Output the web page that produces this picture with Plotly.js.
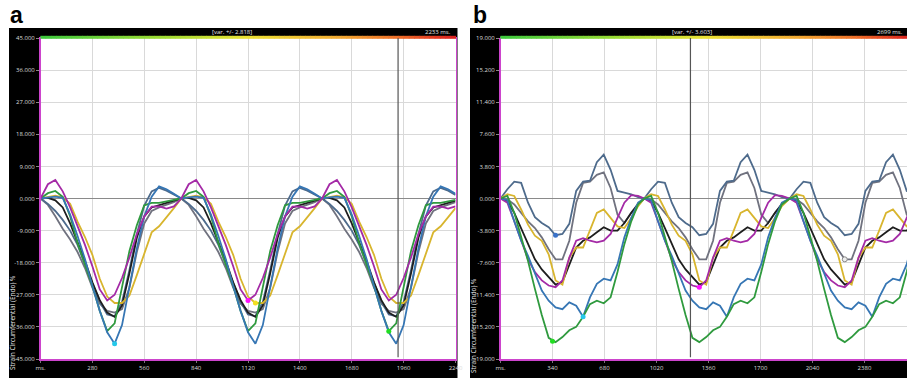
<!DOCTYPE html>
<html><head><meta charset="utf-8">
<script src="https://cdn.plot.ly/plotly-3.0.1.min.js"></script>
<style>html,body{margin:0;padding:0;background:#fff}#chart{width:907px;height:378px}</style>
</head><body><div id="chart"></div>
<script>
// ---------- DATA ----------
// Panel a: one heart cycle sampled every 40 ms, repeated at cycle starts
const leftCycleT = [0,40,80,120,160,200,240,280,320,360,400,440,480,520,560,600,640,680,720];
const leftStarts = [0,760,1520];
const leftMagenta = [0,4.0,5.2,2.0,-2.5,-7.5,-13.0,-19.0,-25.5,-28.6,-27.0,-22.3,-16.5,-10.0,-5.0,-2.3,-2.2,-2.8,-2.2];
const leftYellow  = [0,0.5,0.8,0.3,-1.5,-6.5,-10.8,-15.8,-22.5,-27.5,-29.3,-29.3,-27.2,-21.5,-15.5,-9.5,-7.8,-5.4,-2.7];
const leftGreen   = [0,1.5,2.1,0.5,-5.0,-12.5,-18.5,-24.5,-31.5,-37.2,-35.0,-25.0,-14.7,-7.5,-1.9,-1.2,-1.2,-0.8,-0.4];
const leftBlue    = [0,0.3,0.5,0.2,-4.5,-10.5,-17.0,-24.5,-31.5,-37.5,-40.7,-35.5,-25.0,-14.0,-5.0,0.5,3.4,2.6,1.3];
const leftSlate   = [0,-1.5,-3.5,-6.0,-9.0,-13.0,-18.5,-24.0,-29.0,-32.5,-33.0,-29.0,-20.0,-10.0,-2.0,2.0,3.0,2.2,1.0];
const leftBlack   = [0,0.2,-0.5,-2.5,-7.0,-12.0,-17.5,-23.5,-28.5,-32.0,-33.2,-30.0,-21.0,-11.0,-5.0,-2.5,-1.8,-1.3,-0.6];
const leftGray    = [0,-1.8,-5.0,-8.5,-11.5,-15.0,-19.5,-25.0,-29.5,-31.5,-32.0,-31.0,-25.0,-15.0,-7.0,-3.5,-2.5,-1.8,-1.0];
const leftMarkT = [400,1120,1160,1880];
const leftMarkV = [-40.7,-28.6,-29.3,-37.2];
const leftCursorT = 1930;
const leftXTicks = [0,280,560,840,1120,1400,1680,1960,2240];
const leftXTickText = ['ms.','280','560','840','1120','1400','1680','1960','2240'];
const leftYTicks = [45,36,27,18,9,0,-9,-18,-27,-36,-45];
const leftYTickText = ['45.000','36.000','27.000','18.000','9.000','0.000','-9.000','-18.000','-27.000','-36.000','-45.000'];

// Panel b: one cycle sampled every 45 ms
const rightCycleT = [0,45,90,135,180,225,270,315,360,405,450,495,540,585,630,675,720,765,810,855,900];
const rightStarts = [0,940,1891];
const rightSlate   = [0,1.1,2.0,1.85,-0.5,-2.2,-2.9,-3.4,-4.35,-4.2,-3.0,0.9,2.0,2.1,4.3,5.2,3.4,0.9,0.7,0.5,0.15];
const rightGray    = [0,-0.1,-0.7,-1.7,-2.7,-3.5,-4.6,-6.0,-7.2,-7.2,-5.0,-0.5,1.85,2.0,2.8,3.1,1.25,-1.9,-2.9,-1.7,-0.6];
const rightYellow  = [0,0.5,0.3,-1.3,-3.1,-4.4,-5.0,-6.6,-9.7,-10.2,-7.0,-5.8,-5.8,-3.8,-1.7,-1.3,-2.3,-3.3,-3.5,-2.3,-0.9];
const rightBlack   = [0,-0.3,-1.7,-3.5,-5.4,-7.2,-8.4,-9.3,-10.2,-9.9,-7.8,-5.8,-5.0,-4.6,-4.0,-3.4,-3.8,-3.8,-2.9,-1.7,-0.7];
const rightMagenta = [0,-0.5,-2.7,-5.0,-7.2,-8.7,-9.7,-10.3,-10.5,-9.7,-7.0,-5.0,-4.7,-5.0,-5.2,-5.0,-4.2,-2.3,-0.5,0.4,0.3];
const rightBlue    = [0,-0.2,-2.7,-5.0,-6.8,-8.9,-10.9,-12.1,-12.9,-13.1,-12.3,-12.7,-14.0,-11.7,-10.1,-9.5,-9.7,-7.8,-4.6,-2.3,-0.5];
const rightGreen   = [0,0.3,-1.7,-4.6,-7.4,-10.7,-13.8,-16.5,-17.0,-16.4,-15.6,-15.2,-14.0,-12.5,-12.1,-12.4,-11.7,-8.7,-5.4,-2.7,-0.7];
const rightMarkT = [360,540,340,1300,2251];
const rightMarkV = [-4.35,-14.0,-16.9,-10.5,-7.2];
const rightCursorT = 1242;
const rightXTicks = [0,340,680,1020,1360,1700,2040,2380];
const rightXTickText = ['ms.','340','680','1020','1360','1700','2040','2380'];
const rightYTicks = [19,15.2,11.4,7.6,3.8,0,-3.8,-7.6,-11.4,-15.2,-19];
const rightYTickText = ['19.000','15.200','11.400','7.600','3.800','0.000','-3.800','-7.600','-11.400','-15.200','-19.000'];

// ---------- STYLE ----------
const W = 907, H = 378;
const fx = p => p / W, fy = p => 1 - p / H;
const C = {magenta:'#a42aa6', yellow:'#d8b52e', green:'#2f9a3e', blue:'#3676b4', slate:'#4e6b8c', black:'#1e1e1e', gray:'#70727f'};

function repeat(t, v, starts) {
  const xs = [], ys = [];
  starts.forEach(s => t.forEach((tt, i) => { xs.push(s + tt); ys.push(v[i]); }));
  return {xs, ys};
}
function line(t, v, starts, color, xa, ya) {
  const r = repeat(t, v, starts);
  return {type:'scatter', mode:'lines', x:r.xs, y:r.ys, xaxis:xa, yaxis:ya,
          line:{color:color, width:1.8}, hoverinfo:'skip'};
}
const traces = [
  line(leftCycleT, leftGray, leftStarts, C.gray, 'x', 'y'),
  line(leftCycleT, leftSlate, leftStarts, C.slate, 'x', 'y'),
  line(leftCycleT, leftBlack, leftStarts, C.black, 'x', 'y'),
  line(leftCycleT, leftYellow, leftStarts, C.yellow, 'x', 'y'),
  line(leftCycleT, leftGreen, leftStarts, C.green, 'x', 'y'),
  line(leftCycleT, leftBlue, leftStarts, C.blue, 'x', 'y'),
  line(leftCycleT, leftMagenta, leftStarts, C.magenta, 'x', 'y'),
  {type:'scatter', mode:'markers', x:leftMarkT, y:leftMarkV, xaxis:'x', yaxis:'y',
   marker:{size:5, color:['#25c8ea','#ff10ff','#f2e020','#22dd22']}, hoverinfo:'skip'},
  line(rightCycleT, rightGray, rightStarts, C.gray, 'x2', 'y2'),
  line(rightCycleT, rightSlate, rightStarts, C.slate, 'x2', 'y2'),
  line(rightCycleT, rightBlack, rightStarts, C.black, 'x2', 'y2'),
  line(rightCycleT, rightYellow, rightStarts, C.yellow, 'x2', 'y2'),
  line(rightCycleT, rightMagenta, rightStarts, C.magenta, 'x2', 'y2'),
  line(rightCycleT, rightBlue, rightStarts, C.blue, 'x2', 'y2'),
  line(rightCycleT, rightGreen, rightStarts, C.green, 'x2', 'y2'),
  {type:'scatter', mode:'markers', x:rightMarkT, y:rightMarkV, xaxis:'x2', yaxis:'y2',
   marker:{size:5, color:['#3a72c8','#25c8ea','#22dd22','#ff10ff','#eeeeee'], line:{width:[0,0,0,0,1], color:'#888'}}, hoverinfo:'skip'}
];

const tickFont = {family:'Open Sans, Liberation Sans, sans-serif', size:6, color:'#dcdcdc'};
const lineCol = '#cc44cc';
function xAxis(domain, range, tv, tt, mirror) {
  return {domain, range, tickvals:tv, ticktext:tt, tickfont:tickFont, showgrid:true,
          gridcolor:'#d9d9d9', gridwidth:1, zeroline:false, showline:true, linecolor:lineCol,
          linewidth:1.5, mirror:mirror, ticks:'outside', ticklen:2, tickcolor:'#777', fixedrange:true};
}
function yAxis(domain, range, tv, tt, anchor, mirror) {
  return {domain, range, anchor, tickvals:tv, ticktext:tt, tickfont:tickFont, showgrid:true,
          gridcolor:'#d9d9d9', gridwidth:1, zeroline:true, zerolinecolor:'#8a8a8a', zerolinewidth:1.2,
          showline:true, linecolor:lineCol, linewidth:1.5, mirror:mirror,
          ticks:'outside', ticklen:3, tickcolor:'#888', fixedrange:true};
}

const shapes = [];
function rectPx(x0, y0, x1, y1, color, layer) {
  shapes.push({type:'rect', xref:'paper', yref:'paper', x0:fx(x0), x1:fx(x1), y0:fy(y1), y1:fy(y0),
               fillcolor:color, line:{width:0}, layer:layer || 'below'});
}
// black frames
rectPx(9, 28, 457, 36.5, '#000'); rectPx(9, 28, 40.5, 378, '#000');
rectPx(9, 359, 457, 378, '#000'); rectPx(456, 28, 457.5, 378, '#000');
rectPx(470, 28, 907, 36.5, '#000'); rectPx(470, 28, 500.5, 378, '#000');
rectPx(470, 359, 907, 378, '#000');
// gradient bars
const stops = [[0,[60,200,60]],[0.3,[160,220,50]],[0.5,[236,226,52]],[0.72,[242,170,50]],[0.86,[238,110,40]],[1,[218,30,30]]];
function gradColor(f) {
  for (let i = 1; i < stops.length; i++) {
    if (f <= stops[i][0]) {
      const a = stops[i-1], b = stops[i], k = (f - a[0]) / (b[0] - a[0]);
      const c = a[1].map((v, j) => Math.round(v + (b[1][j] - v) * k));
      return 'rgb(' + c.join(',') + ')';
    }
  }
  return 'rgb(218,30,30)';
}
function gradient(xa, xb) {
  const n = 80;
  for (let i = 0; i < n; i++) {
    const a = xa + (xb - xa) * i / n, b = xa + (xb - xa) * (i + 1) / n + 0.5;
    rectPx(a, 35.8, Math.min(b, 907), 38.8, gradColor((i + 0.5) / n), 'above');
  }
}
gradient(40.5, 455.5);
gradient(500.5, 913);
// cursors
shapes.push({type:'line', xref:'x', yref:'y', x0:leftCursorT, x1:leftCursorT, y0:-44.5, y1:45, line:{color:'#555', width:1.2}});
shapes.push({type:'line', xref:'x2', yref:'y2', x0:rightCursorT, x1:rightCursorT, y0:-18.8, y1:19, line:{color:'#555', width:1.2}});

const small = {family:'Open Sans, Liberation Sans, sans-serif', size:6, color:'#e0e0e0'};
function ann(text, x, y, opts) {
  return Object.assign({text, xref:'paper', yref:'paper', x:fx(x), y:fy(y), showarrow:false,
          font:small, xanchor:'center', yanchor:'middle'}, opts || {});
}
const annotations = [
  ann('<b>a</b>', 16.5, 15, {font:{family:'Liberation Sans, Arial, sans-serif', size:23, color:'#000'}}),
  ann('<b>b</b>', 479.5, 15, {font:{family:'Liberation Sans, Arial, sans-serif', size:23, color:'#000'}}),
  ann('[var. +/- 2.818]', 232, 32.3),
  ann('2233 ms.', 453, 32.3, {xanchor:'right'}),
  ann('[var. +/- 3.603]', 692, 32.3),
  ann('2699 ms.', 905, 32.3, {xanchor:'right'}),
  ann('Strain Circumferential (Endo) %', 12, 323, {textangle:-90, font:{family:'Open Sans, Liberation Sans, sans-serif', size:6.5, color:'#e8e8e8'}}),
  ann('Strain Circumferential (Endo) %', 473, 325, {textangle:-90, font:{family:'Open Sans, Liberation Sans, sans-serif', size:6.5, color:'#e8e8e8'}})
];

const layout = {
  width:W, height:H, autosize:false, margin:{l:0, r:0, t:0, b:0, pad:0},
  paper_bgcolor:'#ffffff', plot_bgcolor:'#ffffff', showlegend:false, hovermode:false,
  xaxis: xAxis([fx(40.5), fx(455.5)], [0, 2240], leftXTicks, leftXTickText, true),
  yaxis: yAxis([fy(359), fy(38)], [-45, 45], leftYTicks, leftYTickText, 'x', true),
  xaxis2: Object.assign(xAxis([fx(500.5), 1], [0, 2658], rightXTicks, rightXTickText, false), {anchor:'y2'}),
  yaxis2: yAxis([fy(359), fy(38)], [-19, 19], rightYTicks, rightYTickText, 'x2', false),
  shapes, annotations
};
layout.xaxis.anchor = 'y';
Plotly.newPlot('chart', traces, layout, {staticPlot:true, displayModeBar:false});
</script></body></html>
